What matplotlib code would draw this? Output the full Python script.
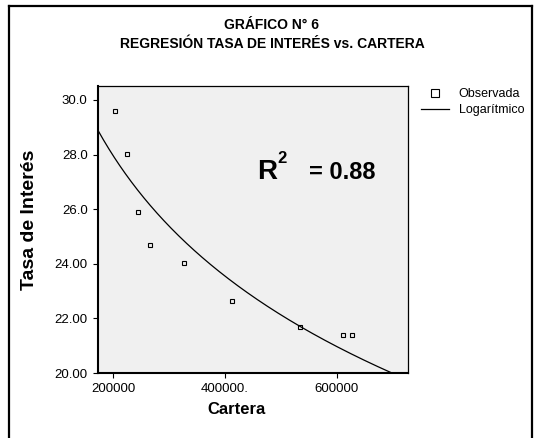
import numpy as np
import matplotlib
matplotlib.use("Agg")
import matplotlib.pyplot as plt
from matplotlib.lines import Line2D

plt.rcParams['font.family'] = ['Liberation Sans', 'DejaVu Sans']

# ---- data ----
cartera = [203600, 225500, 245200, 266100, 326800, 413000, 533900, 611300, 627300]
tasa = [29.6, 28.02, 25.91, 24.68, 24.02, 22.65, 21.67, 21.40, 21.39]
log_a = 105.69          # fitted curve: tasa = a + b*ln(cartera)
log_b = -6.368
r2_text = "= 0.88"
xticks = [200000, 400000, 600000]
xtick_labels = ["200000", "400000.", "600000"]
yticks = [20, 22, 24, 26, 28, 30]
ytick_labels = ["20.00", "22.00", "24.00", "26.0", "28.0", "30.0"]
xlim = (173000, 727000)
ylim = (20, 30.51)

W, H = 538, 438
fig = plt.figure(figsize=(W / 100, H / 100), dpi=100)

def fx(px):
    return px / W

def fy(py):
    return 1 - py / H

# outer frame (left, top, right)
fig.add_artist(Line2D([fx(9), fx(9)], [0, fy(6)], color='black', lw=1.6))
fig.add_artist(Line2D([fx(9), fx(532)], [fy(6), fy(6)], color='black', lw=1.6))
fig.add_artist(Line2D([fx(532), fx(532)], [0, fy(6)], color='black', lw=1.6))

ax = fig.add_axes([fx(98), fy(373), fx(408) - fx(98), fy(86) - fy(373)])
ax.set_facecolor('#F0F0F0')

ax.plot(cartera, tasa, linestyle='none', marker='s', markersize=3.4,
        markerfacecolor='none', markeredgecolor='black', markeredgewidth=0.8)

xs = np.linspace(xlim[0], xlim[1], 400)
ax.plot(xs, log_a + log_b * np.log(xs), color='black', lw=0.9)

ax.set_xlim(*xlim)
ax.set_ylim(*ylim)
ax.set_xticks(xticks)
ax.set_xticklabels(xtick_labels)
ax.set_yticks(yticks)
ax.set_yticklabels(ytick_labels)
ax.tick_params(axis='both', direction='out', length=3.5, width=0.8,
               labelsize=9.5, colors='black')
ax.tick_params(axis='x', pad=4)
ax.tick_params(axis='y', pad=4)
for s in ['left', 'bottom']:
    ax.spines[s].set_linewidth(1.5)
for s in ['top', 'right']:
    ax.spines[s].set_linewidth(0.9)

# axis labels
fig.text(fx(237), fy(410), "Cartera", ha='center', va='center',
         fontsize=12, fontweight='bold')
fig.text(fx(29), fy(220), "Tasa de Interés", ha='center', va='center',
         rotation=90, fontsize=14, fontweight='bold')

# title
fig.text(fx(272), fy(25), "GRÁFICO N° 6", ha='center', va='center',
         fontsize=10, fontweight='bold')
fig.text(fx(272), fy(44), "REGRESIÓN TASA DE INTERÉS vs. CARTERA", ha='center',
         va='center', fontsize=10, fontweight='bold')

# R^2 annotation
fig.text(fx(257), fy(179), "R", ha='left', va='baseline', fontsize=20,
         fontweight='bold')
fig.text(fx(277), fy(163), "2", ha='left', va='baseline', fontsize=12,
         fontweight='bold')
fig.text(fx(309), fy(179), r2_text, ha='left', va='baseline', fontsize=17,
         fontweight='bold')

# legend
handles = [
    Line2D([], [], linestyle='none', marker='s', markersize=6,
           markerfacecolor='none', markeredgecolor='black', markeredgewidth=0.8),
    Line2D([], [], color='black', lw=0.9),
]
leg = fig.legend(handles, ["Observada", "Logarítmico"], loc='upper left',
                 bbox_to_anchor=(fx(421), fy(88)), frameon=False, fontsize=9,
                 handlelength=2.2, handletextpad=0.8, labelspacing=0.35,
                 borderpad=0, borderaxespad=0)

fig.savefig("out.png", dpi=100, facecolor='white')
